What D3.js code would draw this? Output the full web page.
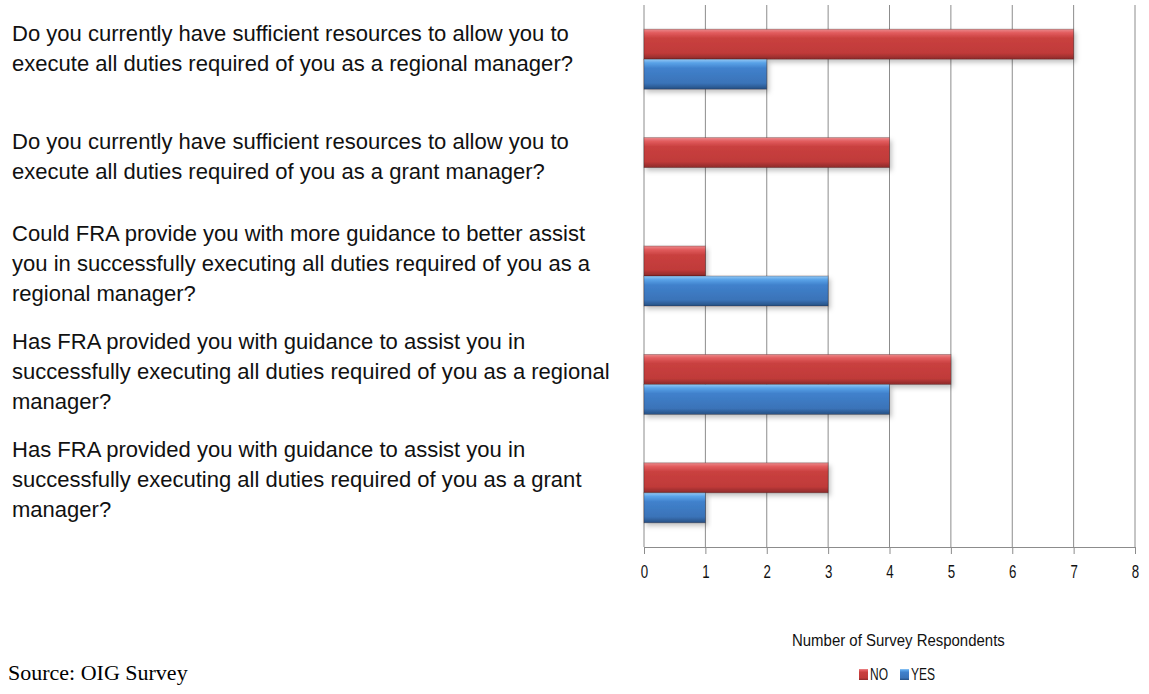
<!DOCTYPE html>
<html lang="en">
<head>
    <meta charset="utf-8">
    <title>Survey</title>
    <script type="text/javascript" src="https://cdn.jsdelivr.net/npm/d3@7"></script>
    <style>
        body { margin: 0; background: #fff; }
        .question { font-family: "Liberation Sans", Arial, sans-serif; font-size: 23px; fill: #111; }
        .tick text { font-family: "Liberation Sans", Arial, sans-serif; font-size: 19px; fill: #111; }
    </style>
</head>
<body>
<script type="text/javascript">

    // questions, each split into lines as in the original
    var questions = [
        ["Do you currently have sufficient resources to allow you to", "execute all duties required of you as a regional manager?"],
        ["Do you currently have sufficient resources to allow you to", "execute all duties required of you as a grant manager?"],
        ["Could FRA provide you with more guidance to better assist", "you in successfully executing all duties required of you as a", "regional manager?"],
        ["Has FRA provided you with guidance to assist you in", "successfully executing all duties required of you as a regional", "manager?"],
        ["Has FRA provided you with guidance to assist you in", "successfully executing all duties required of you as a grant", "manager?"]
    ];
    var noValues = [7, 4, 1, 5, 3];
    var yesValues = [2, 0, 3, 4, 1];
    var seriesNames = ["NO", "YES"];
    var xTicks = [0, 1, 2, 3, 4, 5, 6, 7, 8];

    var w = 1149, h = 694;
    var plotLeft = 644, plotRight = 1135, plotTop = 5, plotBottom = 547;

    var svg = d3.select("body").append("svg")
        .attr("width", w)
        .attr("height", h);

    var defs = svg.append("defs");

    //gradients for the bevelled bars
    function barGradient(id, stops) {
        var g = defs.append("linearGradient")
            .attr("id", id)
            .attr("x1", 0).attr("y1", 0).attr("x2", 0).attr("y2", 1);
        stops.forEach(function (s) {
            g.append("stop").attr("offset", s[0]).attr("stop-color", s[1]);
        });
    }
    barGradient("gradNo", [[0, "#ea8a8c"], [0.12, "#e25c5e"], [0.3, "#c9403f"], [0.8, "#c03a39"], [1, "#8c2a2a"]]);
    barGradient("gradYes", [[0, "#94c8f4"], [0.12, "#5aa3e8"], [0.3, "#4081cc"], [0.8, "#3a73b8"], [1, "#264f82"]]);

    var shadow = defs.append("filter").attr("id", "shadow")
        .attr("x", "-5%").attr("y", "-20%").attr("width", "115%").attr("height", "160%");
    shadow.append("feDropShadow")
        .attr("dx", 2).attr("dy", 3).attr("stdDeviation", 2.5)
        .attr("flood-color", "#000").attr("flood-opacity", 0.25);

    // squeeze a text horizontally so that it is as wide as in the original
    function fitWidth(sel, targetWidth, anchorX) {
        var bw = sel.node().getBBox().width;
        var k = targetWidth / bw;
        sel.attr("transform", "translate(" + anchorX + ",0) scale(" + k + ",1) translate(" + (-anchorX) + ",0)");
    }

    var xScale = d3.scaleLinear()
        .domain([0, 8])
        .range([plotLeft, plotRight]);

    var yScale = d3.scaleBand()
        .domain(d3.range(questions.length))
        .range([plotTop, plotBottom]);

    var inner = d3.scaleBand()
        .domain(seriesNames)
        .range([yScale.bandwidth() / 2 - 30, yScale.bandwidth() / 2 + 30]);

    //grid lines
    svg.append("g")
        .selectAll("line")
        .data(xTicks)
        .enter()
        .append("line")
        .attr("x1", function (d) { return xScale(d); })
        .attr("x2", function (d) { return xScale(d); })
        .attr("y1", plotTop)
        .attr("y2", plotBottom)
        .style("stroke", "#8c8c8c")
        .style("stroke-width", 1);

    //axis
    var xAxis = d3.axisBottom(xScale)
        .tickValues(xTicks)
        .tickSize(7)
        .tickPadding(11)
        .tickFormat(d3.format("d"));

    var axisG = svg.append("g")
        .attr("transform", "translate(0," + plotBottom + ")")
        .call(xAxis);
    axisG.select(".domain").style("stroke", "#8c8c8c");
    axisG.selectAll(".tick line").style("stroke", "#8c8c8c");
    axisG.selectAll(".tick text").attr("transform", "scale(0.7,1)");

    //bars
    var rows = svg.append("g")
        .selectAll("g")
        .data(questions.map(function (q, i) {
            return {i: i, values: [{key: "NO", v: noValues[i]}, {key: "YES", v: yesValues[i]}]};
        }))
        .enter()
        .append("g")
        .attr("transform", function (d) { return "translate(0," + yScale(d.i) + ")"; });

    rows.selectAll("rect")
        .data(function (d) { return d.values.filter(function (e) { return e.v > 0; }); })
        .enter()
        .append("rect")
        .attr("x", xScale(0))
        .attr("y", function (d) { return inner(d.key); })
        .attr("width", function (d) { return xScale(d.v) - xScale(0); })
        .attr("height", inner.bandwidth())
        .attr("fill", function (d) { return d.key === "NO" ? "url(#gradNo)" : "url(#gradYes)"; })
        .style("stroke", "rgba(40,20,20,0.35)")
        .style("stroke-width", 0.8)
        .attr("filter", "url(#shadow)");

    //question text
    var lineStarts = [33, 141, 233, 341, 449];
    var qGroup = svg.append("g");
    var qText = qGroup
        .selectAll("text")
        .data(questions)
        .enter()
        .append("text")
        .attr("class", "question")
        .attr("x", 12)
        .attr("y", function (d, i) { return lineStarts[i] + 8; });

    qText.selectAll("tspan")
        .data(function (d) { return d; })
        .enter()
        .append("tspan")
        .attr("x", 12)
        .attr("dy", function (d, j) { return j === 0 ? 0 : 30; })
        .text(function (d) { return d; });

    // longest line ("...as a regional") runs to about x=610 in the original
    var longest = qText.filter(function (d, i) { return i === 3; });
    var k = 598 / longest.node().getBBox().width;
    qGroup.attr("transform", "translate(12,0) scale(" + k + ",1) translate(-12,0)");

    //axis title
    var title = svg.append("text")
        .attr("x", 792)
        .attr("y", 646)
        .style("font-family", "'Liberation Sans', Arial, sans-serif")
        .style("font-size", "17px")
        .style("fill", "#111")
        .text("Number of Survey Respondents");
    fitWidth(title, 213, 792);

    //legend
    var legend = svg.append("g")
        .attr("transform", "translate(859,669)");
    var legendX = [0, 41];
    seriesNames.forEach(function (name, i) {
        legend.append("rect")
            .attr("x", legendX[i])
            .attr("y", 0)
            .attr("width", 9)
            .attr("height", 11)
            .attr("fill", i === 0 ? "url(#gradNo)" : "url(#gradYes)");
        legend.append("text")
            .attr("x", legendX[i] + 11)
            .attr("y", 11)
            .attr("transform", "translate(" + (legendX[i] + 11) + ",0) scale(0.75,1) translate(" + (-(legendX[i] + 11)) + ",0)")
            .style("font-family", "'Liberation Sans', Arial, sans-serif")
            .style("font-size", "16px")
            .style("fill", "#111")
            .text(name);
    });

    //source note
    svg.append("text")
        .attr("x", 8)
        .attr("y", 680)
        .style("font-family", "'Liberation Serif', 'Times New Roman', serif")
        .style("font-size", "22px")
        .text("Source: OIG Survey");

</script>
</body>
</html>
